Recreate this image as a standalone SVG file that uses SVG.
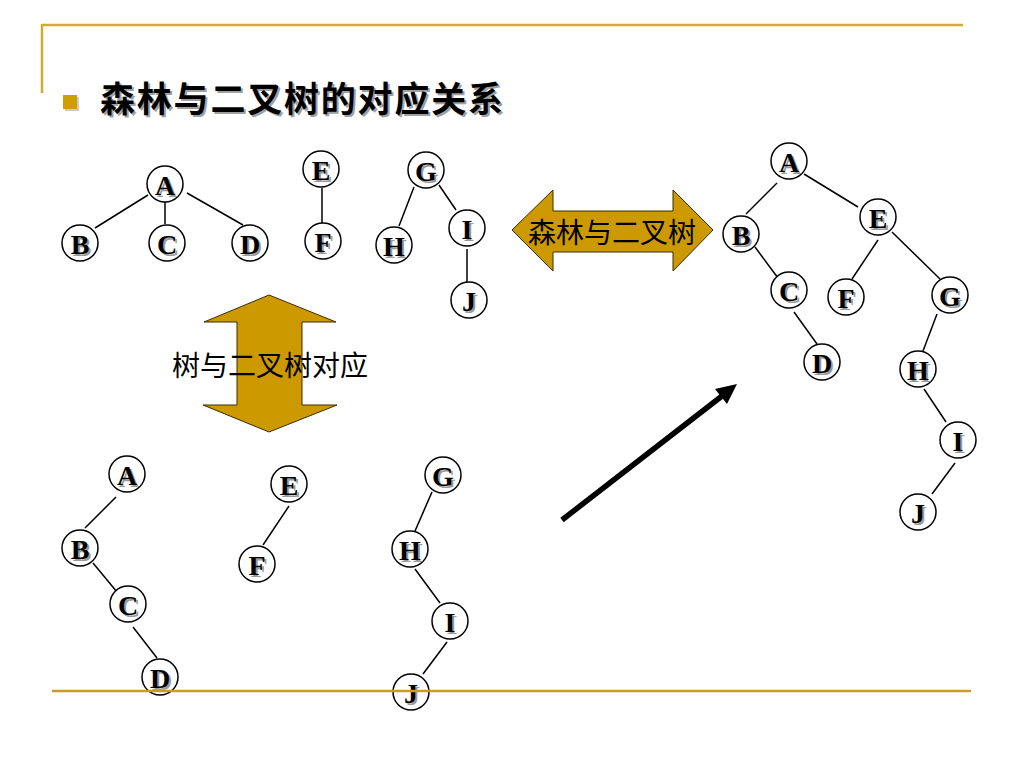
<svg xmlns="http://www.w3.org/2000/svg" width="1024" height="768" viewBox="0 0 1024 768">
<style>
.nd circle{fill:#fff;stroke:#000;stroke-width:1.5}
.lt{font-family:"Liberation Serif","Times New Roman",serif;font-weight:bold;font-size:28px;text-anchor:middle;fill:#000}
.sh{font-family:"Liberation Serif","Times New Roman",serif;font-weight:bold;font-size:28px;text-anchor:middle;fill:#9a9a9a}
.edge line{stroke:#000;stroke-width:1.5}
.cjk{font-family:"Noto Sans CJK SC","Noto Sans CJK JP",sans-serif;fill:#000}
.gold{fill:#CC9900;stroke:#3a2c00;stroke-width:1}
</style>
<rect width="1024" height="768" fill="#fff"/>
<g id="frame">
<line x1="42" y1="25" x2="963" y2="25" stroke="#D2AC2C" stroke-width="2.5"/>
<line x1="42" y1="24" x2="42" y2="93" stroke="#D2AC2C" stroke-width="2.5"/>
</g>
<g id="title">
<rect x="65" y="97" width="14" height="14" fill="#999" opacity="0.5"/>
<rect x="63" y="95" width="14" height="14" fill="#CCA000"/>
<text class="cjk" x="102" y="114" font-size="35" font-weight="bold" textLength="403" lengthAdjust="spacing" style="fill:#a0a0a0">森林与二叉树的对应关系</text>
<text class="cjk" x="100" y="112" font-size="35" font-weight="bold" textLength="403" lengthAdjust="spacing">森林与二叉树的对应关系</text>
</g>
<g id="connectors" class="edge">
<line x1="148" y1="195" x2="95" y2="228"/>
<line x1="165" y1="202" x2="165" y2="224"/>
<line x1="187" y1="193" x2="243" y2="225"/>
<line x1="322" y1="188" x2="322" y2="223"/>
<line x1="414" y1="187" x2="399" y2="226"/>
<line x1="439" y1="185" x2="456" y2="210"/>
<line x1="467" y1="249" x2="467" y2="282"/>
<line x1="777" y1="183" x2="746" y2="214"/>
<line x1="804" y1="174" x2="858" y2="207"/>
<line x1="755" y1="247" x2="778" y2="278"/>
<line x1="794" y1="312" x2="817" y2="344"/>
<line x1="878" y1="240" x2="852" y2="279"/>
<line x1="892" y1="232" x2="940" y2="279"/>
<line x1="937" y1="314" x2="923" y2="351"/>
<line x1="924" y1="389" x2="946" y2="422"/>
<line x1="955" y1="463" x2="932" y2="494"/>
<line x1="116" y1="497" x2="85" y2="528"/>
<line x1="93" y1="563" x2="117" y2="592"/>
<line x1="133" y1="627" x2="157" y2="658"/>
<line x1="289" y1="506" x2="263" y2="545"/>
<line x1="432" y1="492" x2="415" y2="531"/>
<line x1="415" y1="569" x2="440" y2="603"/>
<line x1="447" y1="642" x2="423" y2="674"/>
</g>
<g id="tA" class="nd" transform="translate(165,184)"><circle r="18"/><text class="sh" x="2" y="13">A</text><text class="lt" y="11">A</text></g>
<g id="tB" class="nd" transform="translate(80,243)"><circle r="18"/><text class="sh" x="2" y="13">B</text><text class="lt" y="11">B</text></g>
<g id="tC" class="nd" transform="translate(167,243)"><circle r="18"/><text class="sh" x="2" y="13">C</text><text class="lt" y="11">C</text></g>
<g id="tD" class="nd" transform="translate(250,243)"><circle r="18"/><text class="sh" x="2" y="13">D</text><text class="lt" y="11">D</text></g>
<g id="tE" class="nd" transform="translate(321,169)"><circle r="18"/><text class="sh" x="2" y="13">E</text><text class="lt" y="11">E</text></g>
<g id="tF" class="nd" transform="translate(323,241)"><circle r="18"/><text class="sh" x="2" y="13">F</text><text class="lt" y="11">F</text></g>
<g id="tG" class="nd" transform="translate(426,170)"><circle r="18"/><text class="sh" x="2" y="13">G</text><text class="lt" y="11">G</text></g>
<g id="tH" class="nd" transform="translate(394,245)"><circle r="18"/><text class="sh" x="2" y="13">H</text><text class="lt" y="11">H</text></g>
<g id="tI" class="nd" transform="translate(467,228)"><circle r="18"/><text class="sh" x="2" y="13">I</text><text class="lt" y="11">I</text></g>
<g id="tJ" class="nd" transform="translate(469,300)"><circle r="18"/><text class="sh" x="2" y="13">J</text><text class="lt" y="11">J</text></g>
<g id="rA" class="nd" transform="translate(789,161)"><circle r="18"/><text class="sh" x="2" y="13">A</text><text class="lt" y="11">A</text></g>
<g id="rB" class="nd" transform="translate(741,234)"><circle r="18"/><text class="sh" x="2" y="13">B</text><text class="lt" y="11">B</text></g>
<g id="rE" class="nd" transform="translate(878,217)"><circle r="18"/><text class="sh" x="2" y="13">E</text><text class="lt" y="11">E</text></g>
<g id="rC" class="nd" transform="translate(789,290)"><circle r="18"/><text class="sh" x="2" y="13">C</text><text class="lt" y="11">C</text></g>
<g id="rF" class="nd" transform="translate(846,297)"><circle r="18"/><text class="sh" x="2" y="13">F</text><text class="lt" y="11">F</text></g>
<g id="rG" class="nd" transform="translate(950,295)"><circle r="18"/><text class="sh" x="2" y="13">G</text><text class="lt" y="11">G</text></g>
<g id="rD" class="nd" transform="translate(822,362)"><circle r="18"/><text class="sh" x="2" y="13">D</text><text class="lt" y="11">D</text></g>
<g id="rH" class="nd" transform="translate(918,369)"><circle r="18"/><text class="sh" x="2" y="13">H</text><text class="lt" y="11">H</text></g>
<g id="rI" class="nd" transform="translate(958,440)"><circle r="18"/><text class="sh" x="2" y="13">I</text><text class="lt" y="11">I</text></g>
<g id="rJ" class="nd" transform="translate(918,512)"><circle r="18"/><text class="sh" x="2" y="13">J</text><text class="lt" y="11">J</text></g>
<g id="bA" class="nd" transform="translate(127,474)"><circle r="18"/><text class="sh" x="2" y="13">A</text><text class="lt" y="11">A</text></g>
<g id="bB" class="nd" transform="translate(80,548)"><circle r="18"/><text class="sh" x="2" y="13">B</text><text class="lt" y="11">B</text></g>
<g id="bC" class="nd" transform="translate(128,604)"><circle r="18"/><text class="sh" x="2" y="13">C</text><text class="lt" y="11">C</text></g>
<g id="bD" class="nd" transform="translate(160,677)"><circle r="18"/><text class="sh" x="2" y="13">D</text><text class="lt" y="11">D</text></g>
<g id="bE" class="nd" transform="translate(289,484)"><circle r="18"/><text class="sh" x="2" y="13">E</text><text class="lt" y="11">E</text></g>
<g id="bF" class="nd" transform="translate(257,564)"><circle r="18"/><text class="sh" x="2" y="13">F</text><text class="lt" y="11">F</text></g>
<g id="bG" class="nd" transform="translate(443,475)"><circle r="18"/><text class="sh" x="2" y="13">G</text><text class="lt" y="11">G</text></g>
<g id="bH" class="nd" transform="translate(410,549)"><circle r="18"/><text class="sh" x="2" y="13">H</text><text class="lt" y="11">H</text></g>
<g id="bI" class="nd" transform="translate(450,621)"><circle r="18"/><text class="sh" x="2" y="13">I</text><text class="lt" y="11">I</text></g>
<g id="bJ" class="nd" transform="translate(411,692)"><circle r="18"/><text class="sh" x="2" y="13">J</text><text class="lt" y="11">J</text></g>
<g id="hArrow">
<polygon class="gold" points="512,230 553,190 553,211 673,211 673,190 713,230 673,271 673,252 553,252 553,271"/>
<text class="cjk" x="612" y="243" font-size="28" text-anchor="middle">森林与二叉树</text>
</g>
<g id="vArrow">
<polygon class="gold" points="269,295 336,322 302,322 302,405 337,405 269,432 203,405 237,405 237,322 204,322"/>
<text class="cjk" x="270" y="376" font-size="28" text-anchor="middle">树与二叉树对应</text>
</g>
<g id="bigArrow">
<line x1="562" y1="520" x2="722" y2="396" stroke="#000" stroke-width="5.5"/>
<polygon points="737,384 727,404 715,389" fill="#000"/>
</g>
<g id="footer">
<line x1="52" y1="691" x2="971" y2="691" stroke="#CC9A26" stroke-width="2.5"/>
</g>
</svg>
